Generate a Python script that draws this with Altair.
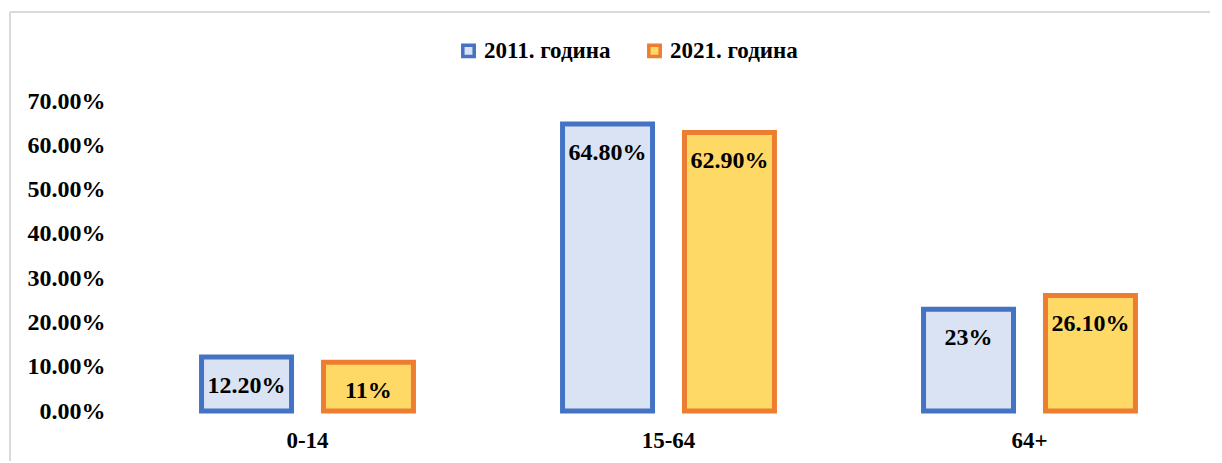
import altair as alt
import pandas as pd

categories = ["0-14", "15-64", "64+"]
series = ["2011. година", "2021. година"]
values_2011 = [0.122, 0.648, 0.23]
values_2021 = [0.11, 0.629, 0.261]
labels_2011 = ["12.20%", "64.80%", "23%"]
labels_2021 = ["11%", "62.90%", "26.10%"]
y_ticks = [0, 0.1, 0.2, 0.3, 0.4, 0.5, 0.6, 0.7]

rows = []
for i, c in enumerate(categories):
    rows.append({"cat": c, "series": series[0], "value": values_2011[i], "label": labels_2011[i]})
    rows.append({"cat": c, "series": series[1], "value": values_2021[i], "label": labels_2021[i]})
df = pd.DataFrame(rows)

FONT = "Liberation Serif"
fill_scale = alt.Scale(domain=series, range=["#DAE3F3", "#FFD966"])
stroke_scale = alt.Scale(domain=series, range=["#4472C4", "#ED7D31"])

x = alt.X("cat:N", sort=categories, title=None,
          scale=alt.Scale(paddingInner=0.413, paddingOuter=0.2065),
          axis=alt.Axis(labelAngle=0, labelFont=FONT, labelFontSize=23, labelFontWeight="bold",
                        labelColor="black", domain=False, ticks=False, labelPadding=18))
y = alt.Y("value:Q", title=None,
          scale=alt.Scale(domain=[0, 0.7], nice=False),
          axis=alt.Axis(values=y_ticks, format=".2%", labelFont=FONT, labelFontSize=24,
                        labelFontWeight="bold", labelColor="black", domain=False, ticks=False,
                        grid=False, labelPadding=22))
xo = alt.XOffset("series:N", sort=series, scale=alt.Scale(paddingInner=0.262, paddingOuter=0))

legend = alt.Legend(orient="none", legendX=330, legendY=-62, direction="horizontal",
                    labelFont=FONT, labelFontSize=23, labelFontWeight="bold", labelColor="black",
                    symbolType="square", symbolSize=130, symbolStrokeWidth=3.5, columnPadding=30,
                    labelOffset=4, symbolOpacity=1, title=None)

bars = alt.Chart(df).mark_bar(strokeWidth=5).encode(
    x=x, y=y, xOffset=xo,
    fill=alt.Fill("series:N", scale=fill_scale, sort=series, title=None, legend=legend),
    stroke=alt.Stroke("series:N", scale=stroke_scale, sort=series, title=None, legend=legend),
)

text = alt.Chart(df).mark_text(font=FONT, fontSize=24, fontWeight="bold", color="black",
                               baseline="middle", dy=29).encode(
    x=alt.X("cat:N", sort=categories), y="value:Q", xOffset=xo, text="label:N"
)

frame_data = alt.Data(values=[{"k": 1}])
top_line = alt.Chart(frame_data).mark_rule(color="#D9D9D9", strokeWidth=2).encode(
    x=alt.value(-117), x2=alt.value(1095), y=alt.value(-89)
)
left_line = alt.Chart(frame_data).mark_rule(color="#D9D9D9", strokeWidth=2).encode(
    x=alt.value(-117), y=alt.value(-89), y2=alt.value(362)
)

chart = alt.layer(top_line, left_line, bars, text).properties(
    width=1083, height=310,
    autosize=alt.AutoSizeParams(type="none"),
    padding={"left": 119, "top": 93, "right": 0, "bottom": 50},
    background="white",
).configure_view(strokeWidth=0)

chart.save("out.html", embed_options={"renderer": "svg", "actions": False})
